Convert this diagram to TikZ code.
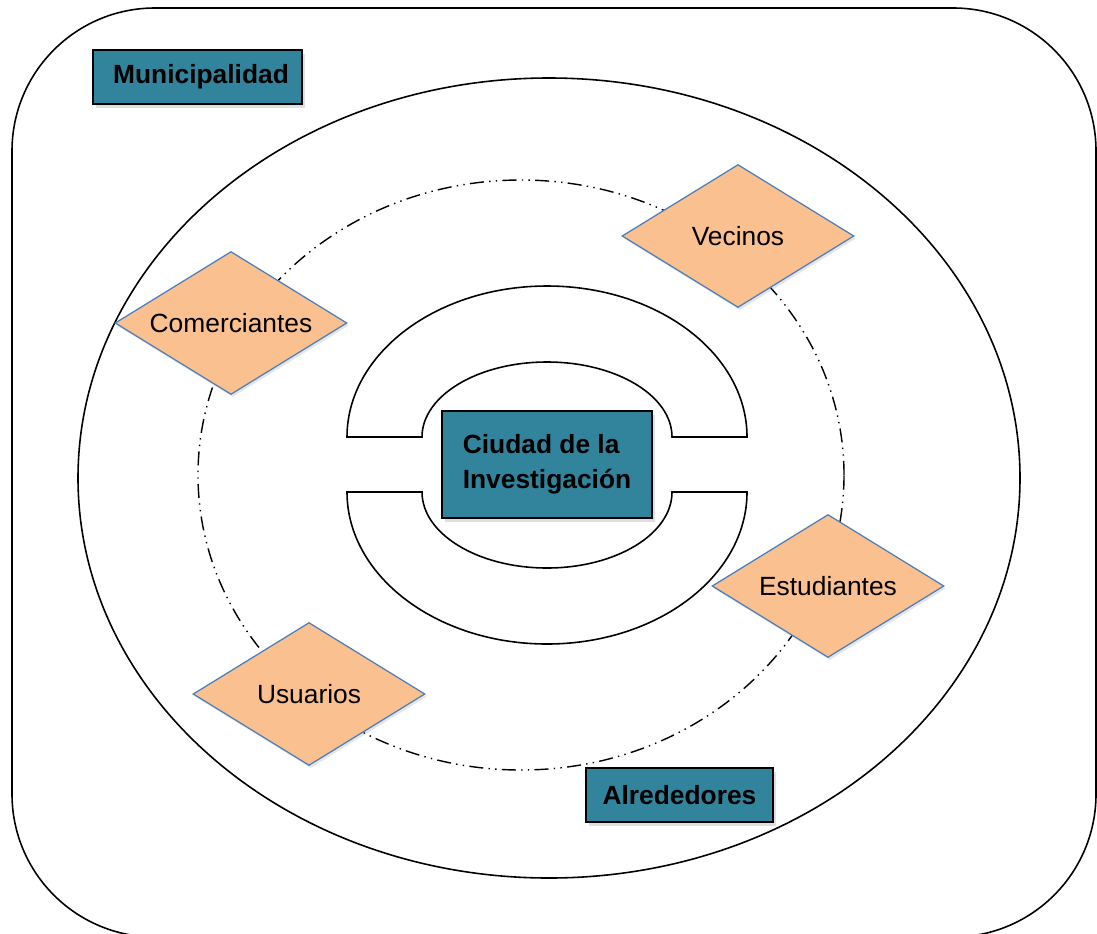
\documentclass[tikz,border=0pt]{standalone}
\usepackage{fontspec}
\setmainfont{Liberation Sans}
\usepackage{xcolor}
\usetikzlibrary{shapes.geometric,shadows,math}

\definecolor{boxteal}{HTML}{31849B}
\definecolor{actorfill}{HTML}{FAC08F}
\definecolor{actorline}{HTML}{4A7EBB}

\begin{document}
\begin{tikzpicture}[x=0.02cm,y=0.02cm]

\tikzmath{
	\DW = 4.64cm;
	\DH = 2.86cm;
}

\tikzset{actor/.style={
    diamond, aspect=1.62,
    draw=actorline, fill=actorfill, line width=0.7pt,
    minimum width=\DW, minimum height=\DH,
    inner sep=0pt,
    font=\fontsize{15}{18}\selectfont,
    drop shadow={opacity=0.2, shadow xshift=1pt, shadow yshift=-1.5pt}
  },
  level box/.style={
    draw=black, fill=boxteal, line width=0.8pt,
    minimum height=1.08cm, inner sep=0pt,
    font=\fontsize{15}{20}\selectfont\bfseries,
    drop shadow={opacity=0.25, shadow xshift=1.5pt, shadow yshift=-2pt}
  },
  ring/.style={draw=black, line width=0.9pt, fill=white}
}

\useasboundingbox (0,0) rectangle (1097,-933);

% outer frame
\draw[ring, rounded corners=2.86cm] (12,-8) rectangle (1096,-937);

% rings
\draw[ring] (549,-478) ellipse [x radius=471, y radius=400];
\draw[line width=0.8pt, dash pattern=on 8pt off 3pt on 0.8pt off 3pt on 0.8pt off 3pt]
  (521,-475) ellipse [x radius=323, y radius=295];

% inner halves
\draw[ring] (347,-437) arc[start angle=180, end angle=0, x radius=200, y radius=151]
  -- (672,-437) arc[start angle=0, end angle=180, x radius=125, y radius=75] -- cycle;
\draw[ring] (347,-492) arc[start angle=180, end angle=360, x radius=200, y radius=152]
  -- (672,-492) arc[start angle=0, end angle=-180, x radius=125, y radius=76] -- cycle;

% boxes
\node[level box, minimum width=4.2cm, minimum height=2.14cm, align=left] (ciudad) at (547,-464.5)
  {Ciudad de la\\Investigación};
\node[level box, minimum width=4.18cm] (muni) at (197.5,-77) {\hspace{0.14cm}Municipalidad};
\node[level box, minimum width=3.74cm] (alred) at (679.5,-795) {Alrededores};

% actors
\node[actor] (comer) at (231,-323) {Comerciantes};
\node[actor] (vecinos) at (738,-236) {Vecinos};
\node[actor] (estud) at (828,-586) {Estudiantes};
\node[actor] (usuar) at (309,-694) {Usuarios};

\end{tikzpicture}
\end{document}
